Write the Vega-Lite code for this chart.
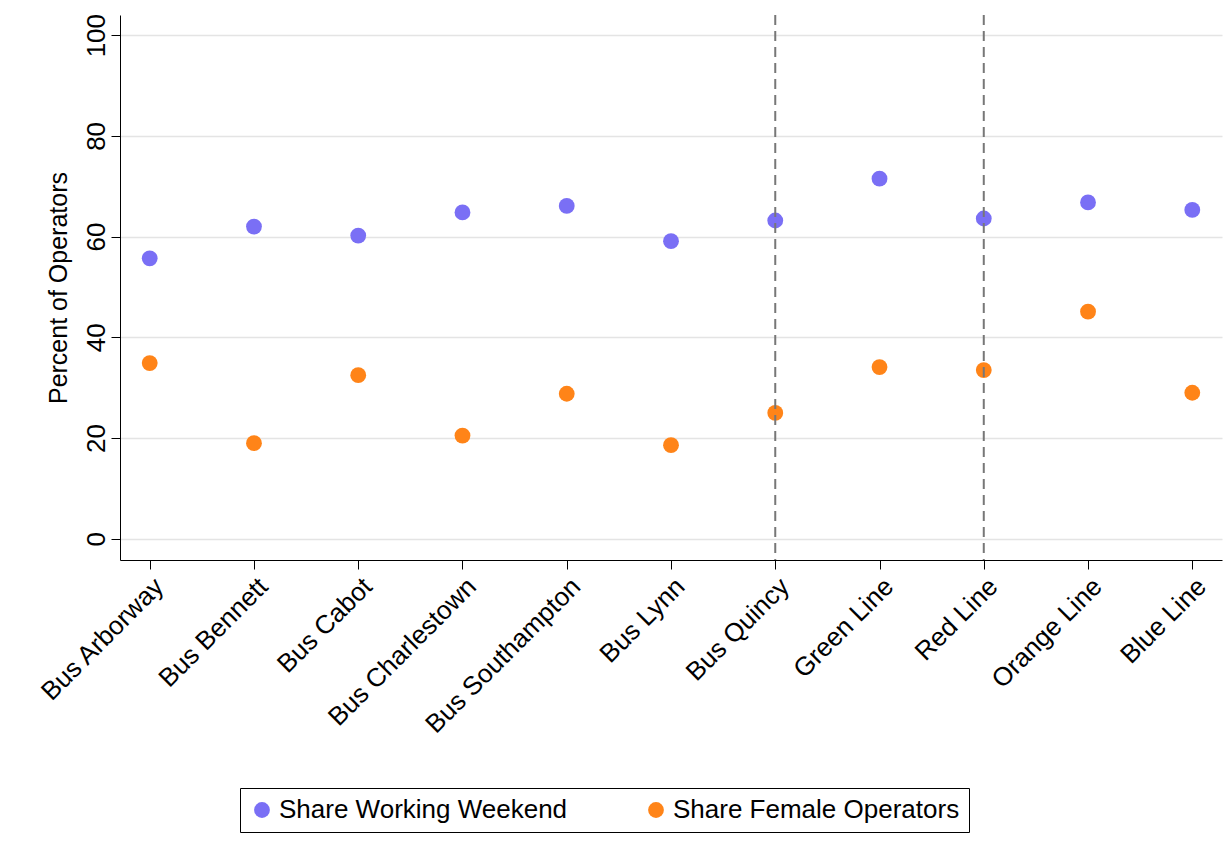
{
  "$schema": "https://vega.github.io/schema/vega-lite/v6.json",
  "autosize": {"type": "none"},
  "padding": {"left": 120, "top": 15, "right": 3, "bottom": 288},
  "width": 1102,
  "height": 545,
  "background": "white",
  "config": {
    "font": "Liberation Sans",
    "view": {"stroke": null}
  },
  "datasets": {
    "pts": [
      {"depot": "Bus Arborway", "series": "Share Working Weekend", "pct": 55.7},
      {"depot": "Bus Bennett", "series": "Share Working Weekend", "pct": 62.0},
      {"depot": "Bus Cabot", "series": "Share Working Weekend", "pct": 60.2},
      {"depot": "Bus Charlestown", "series": "Share Working Weekend", "pct": 64.8},
      {"depot": "Bus Southampton", "series": "Share Working Weekend", "pct": 66.1},
      {"depot": "Bus Lynn", "series": "Share Working Weekend", "pct": 59.1},
      {"depot": "Bus Quincy", "series": "Share Working Weekend", "pct": 63.2},
      {"depot": "Green Line", "series": "Share Working Weekend", "pct": 71.5},
      {"depot": "Red Line", "series": "Share Working Weekend", "pct": 63.6},
      {"depot": "Orange Line", "series": "Share Working Weekend", "pct": 66.8},
      {"depot": "Blue Line", "series": "Share Working Weekend", "pct": 65.3},
      {"depot": "Bus Arborway", "series": "Share Female Operators", "pct": 34.9},
      {"depot": "Bus Bennett", "series": "Share Female Operators", "pct": 19.0},
      {"depot": "Bus Cabot", "series": "Share Female Operators", "pct": 32.5},
      {"depot": "Bus Charlestown", "series": "Share Female Operators", "pct": 20.5},
      {"depot": "Bus Southampton", "series": "Share Female Operators", "pct": 28.8},
      {"depot": "Bus Lynn", "series": "Share Female Operators", "pct": 18.6},
      {"depot": "Bus Quincy", "series": "Share Female Operators", "pct": 25.0},
      {"depot": "Green Line", "series": "Share Female Operators", "pct": 34.1},
      {"depot": "Red Line", "series": "Share Female Operators", "pct": 33.5},
      {"depot": "Orange Line", "series": "Share Female Operators", "pct": 45.1},
      {"depot": "Blue Line", "series": "Share Female Operators", "pct": 29.0}
    ],
    "dividers": [{"depot": "Bus Quincy"}, {"depot": "Red Line"}]
  },
  "encoding": {
    "x": {
      "field": "depot", "type": "ordinal",
      "sort": ["Bus Arborway", "Bus Bennett", "Bus Cabot", "Bus Charlestown", "Bus Southampton", "Bus Lynn", "Bus Quincy", "Green Line", "Red Line", "Orange Line", "Blue Line"],
      "scale": {"type": "point", "padding": 0.285},
      "axis": {"title": null, "labelAngle": -45, "labelAlign": "right", "labelBaseline": "top", "labelFontSize": 26, "labelLimit": 400, "labelColor": "black", "domainColor": "black", "tickColor": "black", "tickSize": 9, "labelPadding": 4, "grid": false}
    }
  },
  "layer": [
    {
      "data": {"name": "pts"},
      "mark": {"type": "circle", "size": 250, "opacity": 1},
      "encoding": {
        "y": {
          "field": "pct", "type": "quantitative",
          "scale": {"domain": [-4.2, 104], "nice": false, "zero": false},
          "axis": {"title": "Percent of Operators", "titleFontSize": 25, "titleFontWeight": "normal", "titleColor": "black", "titlePadding": 12, "values": [0, 20, 40, 60, 80, 100], "labelAngle": -90, "labelAlign": "center", "labelBaseline": "bottom", "labelFontSize": 26, "labelColor": "black", "domainColor": "black", "tickColor": "black", "tickSize": 9, "grid": true, "gridColor": "#e4e4e4", "gridWidth": 1.5}
        },
        "color": {
          "field": "series", "type": "nominal",
          "scale": {"domain": ["Share Working Weekend", "Share Female Operators"], "range": ["#7a6ff5", "#ff8418"]},
          "legend": {"title": null, "orient": "none", "legendX": 120, "legendY": 773, "direction": "horizontal", "labelFontSize": 26, "labelColor": "black", "symbolSize": 250, "symbolType": "circle", "strokeColor": "black", "padding": 9, "columnPadding": 75, "labelLimit": 500}
        }
      }
    },
    {
      "data": {"name": "dividers"},
      "mark": {"type": "rule", "strokeDash": [10, 6], "color": "#777777", "strokeWidth": 2},
      "encoding": {}
    }
  ]
}
